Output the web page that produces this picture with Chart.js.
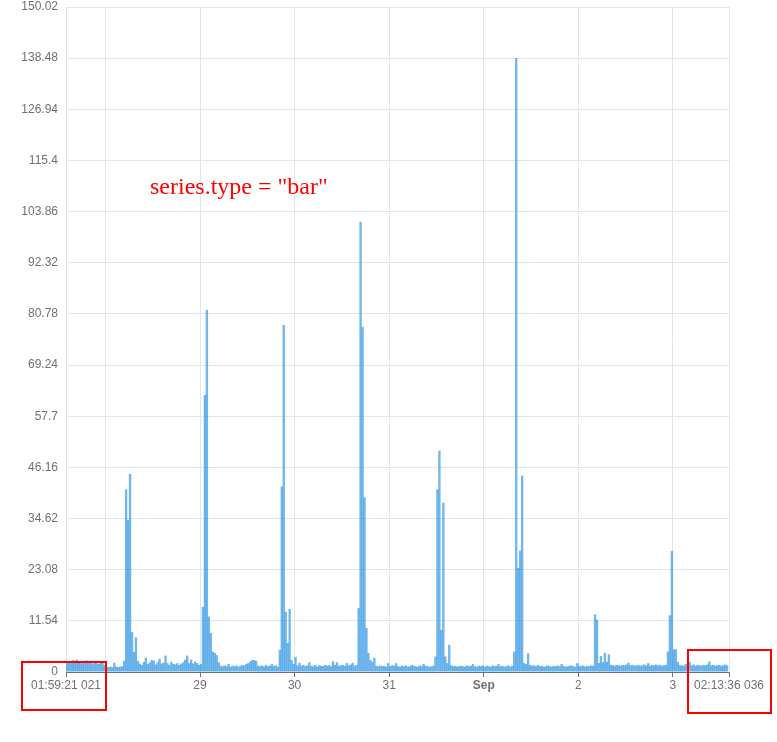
<!DOCTYPE html>
<html>
<head>
<meta charset="utf-8">
<script src="https://cdn.jsdelivr.net/npm/chart.js@4.4.1/dist/chart.umd.min.js"></script>
<style>
  html, body { margin: 0; padding: 0; background: #fff; }
  #wrap { width: 777px; height: 742px; }
</style>
</head>
<body>
<div id="wrap"><canvas id="myChart" width="777" height="742"></canvas></div>
<script>
// x is in hours counted from Aug 28 00:00
const startHour = -10.0108;   // Aug 27 13:59:21.021
const endHour = 158.2267;     // Sep 3 14:13:36.036
const stepHours = 0.5;

const dayTicks = [startHour, 0, 24, 48, 72, 96, 120, 144, endHour];
const dayLabels = ['01:59:21 021', '', '29', '30', '31', 'Sep', '2', '3', '02:13:36 036'];

const yTicks = [0, 11.54, 23.08, 34.62, 46.16, 57.7, 69.24, 80.78, 92.32, 103.86, 115.4, 126.94, 138.48, 150.02];
const yTickLabels = ['0', '11.54', '23.08', '34.62', '46.16', '57.7', '69.24', '80.78', '92.32', '103.86', '115.4', '126.94', '138.48', '150.02'];

// one value per half hour
const values = [
    2.2, 2.5, 2.0, 2.7, 2.3, 2.8, 2.1, 2.5, 2.0, 2.4,
    2.6, 2.1, 2.3, 1.9, 2.5, 2.2, 1.8, 2.1, 2.3, 1.6,
    1.2, 1.1, 1.2, 1.1, 2.1, 1.2, 1.1, 1.2, 1.3, 2.5,
    41.2, 34.3, 44.7, 9.0, 4.5, 7.8, 2.5, 1.9, 1.6, 2.3,
    3.2, 1.8, 2.2, 2.7, 2.6, 1.7, 2.2, 3.0, 1.9, 2.1,
    3.7, 2.0, 1.6, 2.3, 1.8, 1.7, 2.0, 1.6, 1.9, 2.2,
    2.8, 3.7, 2.0, 2.8, 1.9, 2.4, 2.0, 1.6, 1.8, 14.7,
    62.5, 81.7, 12.5, 8.8, 4.6, 4.3, 3.8, 2.2, 1.4, 1.3,
    1.5, 1.3, 1.8, 1.2, 1.4, 1.3, 1.5, 1.2, 1.4, 1.6,
    1.5, 1.8, 2.0, 2.4, 2.7, 2.7, 2.5, 1.4, 1.3, 1.5,
    1.2, 1.6, 1.3, 1.4, 1.8, 1.3, 1.5, 1.2, 5.0, 41.8,
    78.3, 13.6, 6.5, 14.2, 2.7, 1.8, 3.4, 1.5, 2.1, 1.4,
    1.6, 1.3, 1.5, 2.2, 1.4, 1.3, 1.6, 1.2, 1.5, 1.4,
    1.3, 1.6, 1.4, 1.5, 1.3, 2.4, 1.6, 2.2, 1.4, 1.5,
    1.6, 1.4, 2.0, 1.5, 1.7, 2.1, 1.4, 1.6, 14.4, 101.6,
    77.9, 39.4, 9.9, 4.3, 2.7, 2.3, 3.2, 1.4, 1.3, 1.5,
    1.3, 1.4, 1.2, 2.0, 1.3, 1.5, 1.4, 2.0, 1.3, 1.2,
    1.4, 1.3, 1.5, 1.2, 1.3, 1.6, 1.4, 1.3, 1.2, 1.5,
    1.3, 1.8, 1.4, 1.3, 1.2, 1.3, 1.4, 3.5, 41.2, 49.9,
    9.5, 38.2, 3.5, 2.0, 6.1, 1.5, 1.3, 1.4, 1.2, 1.3,
    1.4, 1.3, 1.2, 1.5, 1.3, 1.4, 1.8, 1.3, 1.2, 1.4,
    1.3, 1.5, 1.2, 1.4, 1.3, 1.2, 1.5, 1.3, 1.4, 1.8,
    1.3, 1.4, 1.2, 1.3, 1.5, 1.2, 1.4, 4.6, 138.5, 23.5,
    27.4, 44.3, 2.0, 1.8, 4.2, 1.6, 1.4, 1.5, 1.3, 1.6,
    1.3, 1.4, 1.2, 1.3, 1.5, 1.3, 1.2, 1.4, 1.3, 1.5,
    1.3, 1.8, 1.4, 1.2, 1.3, 1.4, 1.5, 1.3, 1.2, 2.0,
    1.4, 1.3, 1.5, 1.2, 1.4, 1.3, 1.5, 1.4, 13.0, 11.8,
    2.0, 3.6, 2.2, 4.3, 2.3, 4.0, 1.6, 1.5, 1.4, 1.6,
    1.5, 1.4, 1.6, 1.5, 1.7, 2.1, 1.5, 1.6, 1.4, 1.5,
    1.6, 1.4, 1.5, 1.7, 1.5, 2.0, 1.4, 1.6, 1.5, 1.7,
    1.5, 1.6, 1.4, 1.5, 1.6, 4.6, 12.8, 27.3, 5.1, 5.1,
    2.3, 1.6, 1.5, 1.4, 1.8, 1.6, 2.3, 1.5, 1.7, 1.4,
    1.6, 1.5, 1.4, 1.6, 1.5, 1.7, 2.4, 1.5, 1.6, 1.4,
    1.5, 1.6, 1.4, 1.5, 1.7, 1.5
];

const axisGrey = '#6E7079';
const gridGrey = '#E0E6F1';
const labelFont = { size: 12, family: '"Liberation Sans", Arial, sans-serif' };

// red caption and the two highlight boxes
const notes = {
    id: 'notes',
    afterDraw(chart) {
        const c = chart.ctx;
        c.save();
        c.fillStyle = '#ff0000';
        c.font = '24px "Liberation Serif", "Times New Roman", serif';
        c.textBaseline = 'alphabetic';
        c.fillText('series.type = "bar"', 150, 194);
        c.strokeStyle = '#ff0000';
        c.lineWidth = 2;
        c.strokeRect(22, 662, 84, 48);
        c.strokeRect(688, 650, 83, 63);
        c.restore();
    }
};

const ctx = document.getElementById('myChart').getContext('2d');

new Chart(ctx, {
    type: 'bar',
    data: {
        datasets: [{
            data: values.map((v, i) => ({ x: startHour + (i + 0.5) * stepHours, y: v })),
            backgroundColor: 'rgba(40,145,226,0.66)',
            borderWidth: 0,
            barPercentage: 1.2,
            categoryPercentage: 1
        }]
    },
    options: {
        responsive: false,
        animation: false,
        devicePixelRatio: 1,
        layout: { padding: { top: 7, right: 48, bottom: 0, left: 0 } },
        scales: {
            x: {
                type: 'linear',
                offset: false,
                min: startHour,
                max: endHour,
                afterBuildTicks: s => { s.ticks = dayTicks.map(v => ({ value: v })); },
                afterFit: s => { s.height = 70; s.paddingLeft = 0; s.paddingRight = 0; },
                ticks: {
                    autoSkip: false,
                    maxRotation: 0,
                    padding: 1,
                    color: axisGrey,
                    font: c => ({ ...labelFont, weight: c.index === 5 ? 'bold' : 'normal' }),
                    callback: (v, i) => dayLabels[i]
                },
                grid: {
                    offset: false,
                    color: gridGrey,
                    tickLength: 5,
                    tickColor: c => c.index === 1 ? 'rgba(0,0,0,0)' : axisGrey
                },
                border: { color: axisGrey }
            },
            y: {
                min: 0,
                max: 150.02,
                afterBuildTicks: s => { s.ticks = yTicks.map(v => ({ value: v })); },
                afterFit: s => { s.width = 66; s.paddingTop = 0; s.paddingBottom = 0; },
                ticks: {
                    color: axisGrey,
                    font: labelFont,
                    padding: 8,
                    callback: (v, i) => yTickLabels[i]
                },
                grid: { color: gridGrey, drawTicks: false },
                border: { display: false }
            }
        },
        plugins: {
            legend: { display: false },
            tooltip: { enabled: false }
        }
    },
    plugins: [notes]
});
</script>
</body>
</html>
